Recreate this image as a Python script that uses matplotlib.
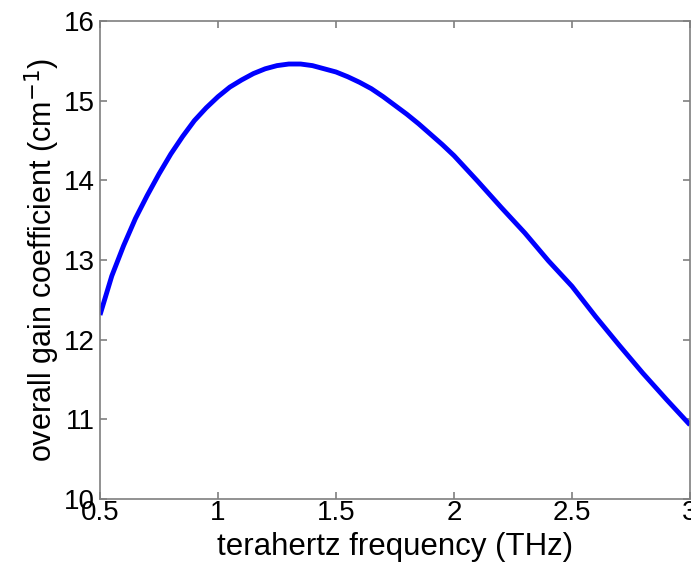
import numpy as np
import matplotlib.pyplot as plt

plt.rcParams['font.family'] = ['Liberation Sans', 'DejaVu Sans']

freq_thz = [0.5, 0.55, 0.6, 0.65, 0.7, 0.75, 0.8, 0.85, 0.9, 0.95, 1.0, 1.05,
            1.1, 1.15, 1.2, 1.25, 1.3, 1.35, 1.4, 1.45, 1.5, 1.55, 1.6, 1.65,
            1.7, 1.75, 1.8, 1.85, 1.9, 1.95, 2.0, 2.1, 2.2, 2.3, 2.4, 2.5,
            2.6, 2.7, 2.8, 2.9, 3.0]
gain = [12.31, 12.80, 13.18, 13.52, 13.81, 14.08, 14.33, 14.55, 14.75, 14.91,
        15.05, 15.17, 15.26, 15.34, 15.40, 15.44, 15.46, 15.46, 15.44, 15.40,
        15.36, 15.30, 15.23, 15.15, 15.05, 14.94, 14.83, 14.71, 14.58, 14.45,
        14.31, 13.99, 13.66, 13.34, 12.99, 12.67, 12.29, 11.93, 11.58, 11.25,
        10.93]
xticks = [0.5, 1, 1.5, 2, 2.5, 3]
xticklabels = ['0.5', '1', '1.5', '2', '2.5', '3']
yticks = [10, 11, 12, 13, 14, 15, 16]

fig = plt.figure(figsize=(6.91, 5.66), dpi=100)
ax = fig.add_axes([100 / 691, 1 - 499 / 566, 590 / 691, 478 / 566])

ax.plot(freq_thz, gain, color='#0000ff', lw=3.5, solid_capstyle='butt',
        solid_joinstyle='round')

ax.set_xlim(0.5, 3)
ax.set_ylim(10, 16)
ax.set_xticks(xticks)
ax.set_xticklabels(xticklabels)
ax.set_yticks(yticks)

for s in ax.spines.values():
    s.set_color('#7f7f7f')
    s.set_linewidth(1.2)
ax.tick_params(direction='in', length=5, width=1.2, color='#7f7f7f',
               top=True, right=True, labelsize=20)
ax.tick_params(axis='x', pad=1)
ax.tick_params(axis='y', pad=4)

ax.set_xlabel('terahertz frequency (THz)', fontsize=22.5, labelpad=4)
ax.set_ylabel('overall gain coefficient (cm$^{\\mathsf{-1}}$)', fontsize=22, labelpad=1)

fig.savefig('out.png', dpi=100)
